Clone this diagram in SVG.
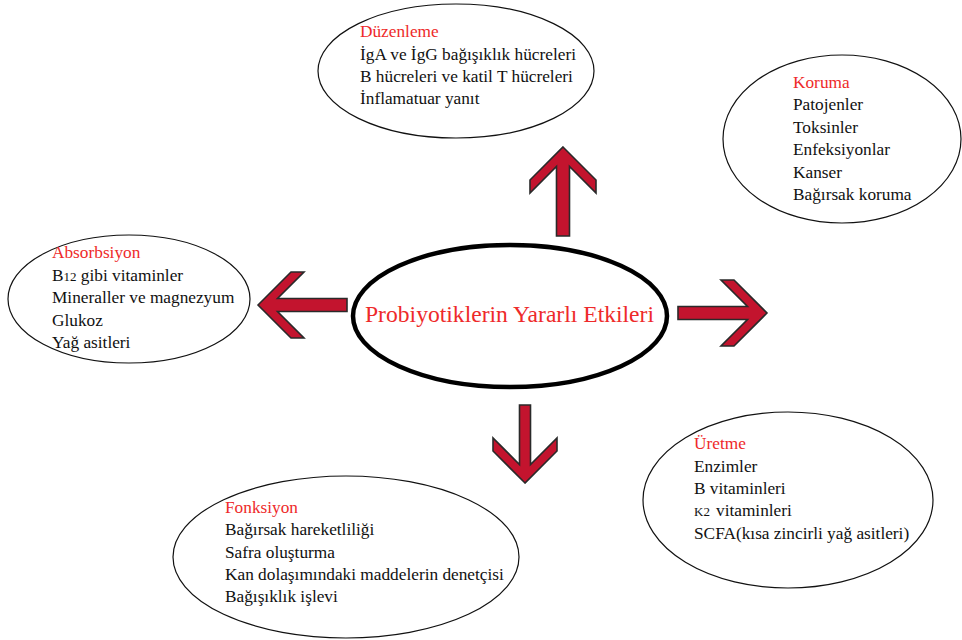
<svg xmlns="http://www.w3.org/2000/svg" xmlns:xlink="http://www.w3.org/1999/xlink" width="962" height="640" viewBox="0 0 962 640">
<style>
text{font-family:"Liberation Serif","Times New Roman",serif;font-size:17.3px;fill:#111}
.h{fill:#ee2a2a}
.e{fill:#fff;stroke:#111;stroke-width:1.2}
.c{fill:#fff;stroke:#000;stroke-width:4.5}
.a{fill:#c3142e;stroke:#2a2a2a;stroke-width:1.6;stroke-linejoin:miter}
.t{font-size:23.6px;fill:#ee2a2a}
.s{font-size:13px}
</style>
<defs>
<path id="arr" d="M0,0 L33,33 L33,46 L6.5,19.5 L6.5,89 L-6.5,89 L-6.5,19.5 L-33,46 L-33,33 Z"/>
<path id="arrS" d="M0,0 L32,32 L32,45 L5.5,18.5 L5.5,78 L-5.5,78 L-5.5,18.5 L-32,45 L-32,32 Z"/>
</defs>
<rect width="962" height="640" fill="#fff"/>
<g id="connectors">
<use xlink:href="#arr" class="a" transform="translate(563,147)"/>
<use xlink:href="#arr" class="a" transform="translate(767,313) rotate(90)"/>
<use xlink:href="#arr" class="a" transform="translate(258,305) rotate(-90)"/>
<use xlink:href="#arrS" class="a" transform="translate(525,483) rotate(180)"/>
</g>
<g id="center">
<ellipse class="c" cx="510" cy="316" rx="157" ry="71"/>
<text class="t" x="365" y="322">Probiyotiklerin Yararlı Etkileri</text>
</g>
<g id="duzenleme">
<ellipse class="e" cx="456" cy="71" rx="138" ry="67"/>
<text class="h" x="360" y="37">Düzenleme</text>
<text x="360" y="60">İgA ve İgG bağışıklık hücreleri</text>
<text x="360" y="82">B hücreleri ve katil T hücreleri</text>
<text x="360" y="104">İnflamatuar yanıt</text>
</g>
<g id="koruma">
<ellipse class="e" cx="842" cy="139" rx="119" ry="84"/>
<text class="h" x="793" y="88">Koruma</text>
<text x="793" y="110">Patojenler</text>
<text x="793" y="133">Toksinler</text>
<text x="793" y="155">Enfeksiyonlar</text>
<text x="793" y="178">Kanser</text>
<text x="793" y="200">Bağırsak koruma</text>
</g>
<g id="absorbsiyon">
<ellipse class="e" cx="129" cy="299" rx="121" ry="64"/>
<text class="h" x="52" y="258">Absorbsiyon</text>
<text x="52" y="281">B<tspan class="s">12</tspan> gibi vitaminler</text>
<text x="52" y="303">Mineraller ve magnezyum</text>
<text x="52" y="326">Glukoz</text>
<text x="52" y="348">Yağ asitleri</text>
</g>
<g id="fonksiyon">
<ellipse class="e" cx="346" cy="557" rx="173" ry="81"/>
<text class="h" x="225" y="513">Fonksiyon</text>
<text x="225" y="535">Bağırsak hareketliliği</text>
<text x="225" y="558">Safra oluşturma</text>
<text x="225" y="580">Kan dolaşımındaki maddelerin denetçisi</text>
<text x="225" y="602">Bağışıklık işlevi</text>
</g>
<g id="uretme">
<ellipse class="e" cx="788" cy="500" rx="145" ry="88"/>
<text class="h" x="694" y="449">Üretme</text>
<text x="694" y="472">Enzimler</text>
<text x="694" y="494">B vitaminleri</text>
<text x="694" y="516"><tspan class="s">K2</tspan><tspan x="716">vitaminleri</tspan></text>
<text x="694" y="539">SCFA(kısa zincirli yağ asitleri)</text>
</g>
</svg>
